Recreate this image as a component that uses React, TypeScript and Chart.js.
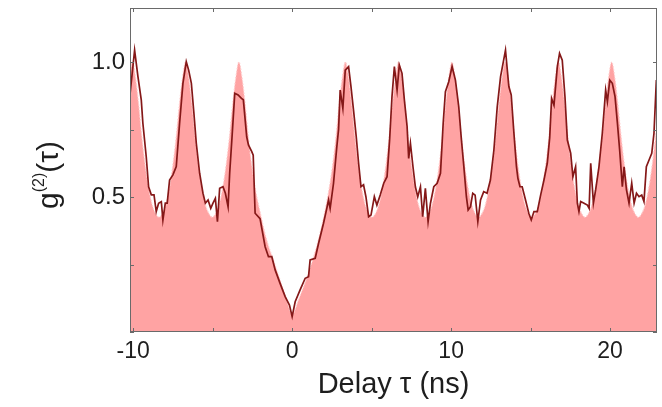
import React, { useEffect, useRef } from 'react';
import { Chart, registerables } from 'chart.js';

Chart.register(...registerables);

// Measured g2 data (delay in ns)
const dataTau = [
  -10.2, -9.91, -9.7, -9.49, -9.39, -9.18, -9.03, -8.86, -8.69, -8.55, -8.4, -8.23, -8.13, -7.98, -7.86,
  -7.71, -7.5, -7.29, -7.08, -6.87, -6.66, -6.51, -6.34, -6.18, -6.03, -5.82, -5.61, -5.46, -5.29, -5.12,
  -4.98, -4.83, -4.7, -4.56, -4.35, -4.2, -4.03, -3.93, -3.78, -3.61, -3.4, -3.19, -3.07, -2.86, -2.75,
  -2.54, -2.45, -2.33, -2.02, -1.7, -1.49, -1.28, -1.07, -0.76, -0.44, -0.17, 0.0, 0.19, 0.5, 0.82,
  1.03, 1.13, 1.45, 1.66, 1.97, 2.18, 2.29, 2.39, 2.6, 2.81, 2.92, 3.02, 3.19, 3.34, 3.55,
  3.7, 3.86, 4.03, 4.18, 4.33, 4.49, 4.64, 4.81, 4.96, 5.17, 5.33, 5.54, 5.76, 5.97, 6.13,
  6.28, 6.43, 6.6, 6.74, 6.91, 7.06, 7.23, 7.33, 7.44, 7.6, 7.75, 7.9, 8.07, 8.21, 8.38,
  8.55, 8.7, 8.91, 9.12, 9.33, 9.5, 9.64, 9.85, 10.06, 10.27, 10.48, 10.63, 10.8, 10.96, 11.07,
  11.22, 11.36, 11.51, 11.68, 11.85, 12.05, 12.26, 12.47, 12.69, 12.9, 13.11, 13.42, 13.63, 13.78, 13.95,
  14.11, 14.2, 14.33, 14.47, 14.68, 14.89, 15.04, 15.21, 15.42, 15.63, 15.84, 16.05, 16.2, 16.32, 16.47,
  16.68, 16.82, 16.99, 17.16, 17.31, 17.52, 17.66, 17.83, 17.94, 18.04, 18.15, 18.36, 18.57, 18.68, 18.78,
  18.95, 19.09, 19.3, 19.51, 19.72, 19.83, 19.98, 20.14, 20.31, 20.46, 20.6, 20.77, 20.88, 21.03, 21.19,
  21.36, 21.51, 21.66, 21.82, 21.99, 22.13, 22.28, 22.45, 22.62, 22.76, 22.91,
];
const dataG = [
  0.88, 1.044, 0.946, 0.859, 0.773, 0.65, 0.538, 0.508, 0.508, 0.446, 0.477, 0.483, 0.415, 0.477, 0.477,
  0.563, 0.582, 0.613, 0.773, 0.921, 1.001, 0.97, 0.921, 0.81, 0.699, 0.588, 0.514, 0.477, 0.489, 0.458,
  0.477, 0.495, 0.409, 0.532, 0.538, 0.514, 0.464, 0.588, 0.724, 0.884, 0.878, 0.865, 0.86, 0.723, 0.693,
  0.668, 0.655, 0.44, 0.42, 0.316, 0.279, 0.279, 0.23, 0.18, 0.131, 0.1, 0.057, 0.112, 0.156, 0.199,
  0.205, 0.267, 0.273, 0.328, 0.402, 0.458, 0.489, 0.458, 0.55, 0.686, 0.75, 0.896, 0.828, 0.97, 0.983,
  0.909, 0.822, 0.724, 0.625, 0.538, 0.545, 0.501, 0.427, 0.433, 0.501, 0.47, 0.507, 0.551, 0.575, 0.711,
  0.872, 0.983, 0.896, 0.989, 0.958, 0.859, 0.761, 0.643, 0.699, 0.612, 0.538, 0.501, 0.538, 0.427, 0.532,
  0.409, 0.477, 0.538, 0.551, 0.588, 0.773, 0.89, 0.927, 0.983, 0.933, 0.834, 0.724, 0.612, 0.501, 0.452,
  0.464, 0.514, 0.507, 0.409, 0.489, 0.52, 0.514, 0.563, 0.674, 0.834, 0.946, 1.044, 0.909, 0.878, 0.736,
  0.612, 0.569, 0.538, 0.538, 0.489, 0.439, 0.415, 0.446, 0.446, 0.507, 0.563, 0.625, 0.72, 0.865, 0.84,
  0.983, 1.032, 1.007, 0.872, 0.711, 0.662, 0.575, 0.612, 0.477, 0.446, 0.483, 0.477, 0.47, 0.458, 0.625,
  0.477, 0.526, 0.612, 0.736, 0.896, 0.853, 0.933, 0.921, 0.872, 0.773, 0.674, 0.538, 0.612, 0.526, 0.477,
  0.551, 0.477, 0.514, 0.501, 0.507, 0.483, 0.612, 0.637, 0.662, 0.736, 0.933,
];

// Fitted curve (shaded)
const fitTau = [
  -10.2, -10.05, -9.85, -9.65, -9.45, -9.25, -9.05, -8.8, -8.6, -8.375, -8.15, -7.95, -7.7, -7.5, -7.3, -7.1, -6.9,
  -6.7, -6.5, -6.3, -6.1, -5.9, -5.7, -5.45, -5.25, -5.025, -4.8, -4.6, -4.35, -4.15, -3.95, -3.75, -3.55,
  -3.35, -3.15, -2.95, -2.75, -2.55, -2.35, -2.0, -1.6, -1.2, -0.8, -0.4, 0.0, 0.4, 0.8, 1.2, 1.6, 2.0,
  2.35, 2.55, 2.75, 2.95, 3.15, 3.35,
  3.55, 3.75, 3.95, 4.15, 4.35, 4.6, 4.8, 5.025, 5.25, 5.45, 5.7, 5.9, 6.1, 6.3, 6.5, 6.7,
  6.9, 7.1, 7.3, 7.5, 7.7, 7.95, 8.15, 8.375, 8.6, 8.8, 9.05, 9.25, 9.45, 9.65, 9.85, 10.05,
  10.25, 10.45, 10.65, 10.85, 11.05, 11.3, 11.5, 11.725, 11.95, 12.15, 12.4, 12.6, 12.8, 13.0, 13.2, 13.4,
  13.6, 13.8, 14.0, 14.2, 14.4, 14.65, 14.85, 15.075, 15.3, 15.5, 15.75, 15.95, 16.15, 16.35, 16.55, 16.75,
  16.95, 17.15, 17.35, 17.55, 17.75, 18.0, 18.2, 18.425, 18.65, 18.85, 19.1, 19.3, 19.5, 19.7, 19.9, 20.1,
  20.3, 20.5, 20.7, 20.9, 21.1, 21.35, 21.55, 21.775, 22.0, 22.2, 22.45, 22.65, 22.85, 23.05,
];
const fitG = [
  0.96, 1.0, 0.94, 0.84, 0.72, 0.62, 0.54, 0.47, 0.44, 0.425, 0.44, 0.47, 0.54, 0.62, 0.72, 0.84, 0.94,
  1.0, 0.94, 0.84, 0.72, 0.62, 0.54, 0.47, 0.44, 0.425, 0.44, 0.47, 0.54, 0.62, 0.72, 0.84, 0.94,
  1.0, 0.94, 0.84, 0.72, 0.62, 0.54, 0.44, 0.34, 0.27, 0.2, 0.13, 0.065, 0.12, 0.18, 0.25, 0.33, 0.43,
  0.54, 0.62, 0.72, 0.84, 0.94, 1.0,
  0.94, 0.84, 0.72, 0.62, 0.54, 0.47, 0.44, 0.425, 0.44, 0.47, 0.54, 0.62, 0.72, 0.84, 0.94, 1.0,
  0.94, 0.84, 0.72, 0.62, 0.54, 0.47, 0.44, 0.425, 0.44, 0.47, 0.54, 0.62, 0.72, 0.84, 0.94, 1.0,
  0.94, 0.84, 0.72, 0.62, 0.54, 0.47, 0.44, 0.425, 0.44, 0.47, 0.54, 0.62, 0.72, 0.84, 0.94, 1.0,
  0.94, 0.84, 0.72, 0.62, 0.54, 0.47, 0.44, 0.425, 0.44, 0.47, 0.54, 0.62, 0.72, 0.84, 0.94, 1.0,
  0.94, 0.84, 0.72, 0.62, 0.54, 0.47, 0.44, 0.425, 0.44, 0.47, 0.54, 0.62, 0.72, 0.84, 0.94, 1.0,
  0.94, 0.84, 0.72, 0.62, 0.54, 0.47, 0.44, 0.425, 0.44, 0.47, 0.54, 0.62, 0.72, 0.84,
];

const xTickValues = [-10, -5, 0, 5, 10, 15, 20];
const xLabeled = [-10, 0, 10, 20];
const yTickValues = [0, 0.25, 0.5, 0.75, 1.0];
const yLabeled = [0.5, 1.0];
const X_MIN = -10.2;
const X_MAX = 22.95;
const Y_MIN = 0;
const Y_MAX = 1.2;

const FONT = '"Liberation Sans", Arial, Helvetica, sans-serif';
const TEXT = '#1e1e1e';

const framePlugin = {
  id: 'frameAndTitles',
  afterDraw(chart: any) {
    const { ctx, chartArea: a, scales } = chart;
    const x = scales.x;
    const y = scales.y;
    ctx.save();
    ctx.strokeStyle = '#6a6a6a';
    ctx.lineWidth = 1;
    ctx.strokeRect(a.left + 0.5, a.top + 0.5, a.right - a.left - 1, a.bottom - a.top - 1);
    ctx.beginPath();
    const tl = 4;
    xTickValues.forEach((v) => {
      const px = Math.round(x.getPixelForValue(v)) + 0.5;
      ctx.moveTo(px, a.bottom);
      ctx.lineTo(px, a.bottom - tl);
      ctx.moveTo(px, a.top);
      ctx.lineTo(px, a.top + tl);
    });
    yTickValues.forEach((v) => {
      const py = Math.round(y.getPixelForValue(v)) + 0.5;
      ctx.moveTo(a.left, py);
      ctx.lineTo(a.left + tl, py);
      ctx.moveTo(a.right, py);
      ctx.lineTo(a.right - tl, py);
    });
    ctx.stroke();

    // x title
    ctx.fillStyle = TEXT;
    ctx.font = `29px ${FONT}`;
    ctx.textAlign = 'center';
    ctx.textBaseline = 'middle';
    ctx.fillText('Delay τ (ns)', (a.left + a.right) / 2, 385);

    // y title with superscript
    const main = `30px ${FONT}`;
    const sup = `16px ${FONT}`;
    const parts = [
      { t: 'g', f: main, dy: 0 },
      { t: '(2)', f: sup, dy: -14 },
      { t: '(τ)', f: main, dy: 0 },
    ];
    let total = 0;
    parts.forEach((p) => {
      ctx.font = p.f;
      total += ctx.measureText(p.t).width;
    });
    ctx.translate(58, 175);
    ctx.rotate(-Math.PI / 2);
    ctx.textAlign = 'left';
    ctx.textBaseline = 'alphabetic';
    let cx = -total / 2;
    parts.forEach((p) => {
      ctx.font = p.f;
      ctx.fillText(p.t, cx, p.dy);
      cx += ctx.measureText(p.t).width;
    });
    ctx.restore();
  },
};

export default function App() {
  const ref = useRef<HTMLCanvasElement | null>(null);

  useEffect(() => {
    if (!ref.current) return;
    const chart = new Chart(ref.current, {
      type: 'line',
      data: {
        datasets: [
          {
            label: 'data',
            data: dataTau.map((t, i) => ({ x: t, y: dataG[i] })),
            borderColor: '#851818',
            borderWidth: 1.7,
            pointRadius: 0,
            tension: 0,
            fill: false,
            order: 0,
          },
          {
            label: 'fit',
            data: fitTau.map((t, i) => ({ x: t, y: fitG[i] })),
            borderColor: 'rgba(255, 205, 205, 1)',
            borderWidth: 1.2,
            borderDash: [1.5, 1.5],
            backgroundColor: '#ffa3a3',
            pointRadius: 0,
            cubicInterpolationMode: 'monotone',
            fill: 'start',
            order: 1,
          },
        ],
      },
      options: {
        responsive: false,
        animation: false,
        devicePixelRatio: 1,
        layout: { padding: { left: 0, right: 5, top: 8, bottom: 0 } },
        plugins: {
          legend: { display: false },
          tooltip: { enabled: false },
        },
        scales: {
          x: {
            type: 'linear',
            min: X_MIN,
            max: X_MAX,
            grid: { display: false, drawTicks: false },
            border: { display: false },
            afterBuildTicks: (axis: any) => {
              axis.ticks = xTickValues.map((v) => ({ value: v }));
            },
            afterFit: (axis: any) => {
              axis.height = 75;
              axis.paddingLeft = 0;
              axis.paddingRight = 0;
            },
            ticks: {
              padding: 6,
              maxRotation: 0,
              autoSkip: false,
              color: TEXT,
              font: { family: FONT, size: 23 },
              callback: (v: any) => (xLabeled.includes(Number(v)) ? String(v) : ''),
            },
          },
          y: {
            type: 'linear',
            min: Y_MIN,
            max: Y_MAX,
            grid: { display: false, drawTicks: false },
            border: { display: false },
            afterBuildTicks: (axis: any) => {
              axis.ticks = yTickValues.map((v) => ({ value: v }));
            },
            afterFit: (axis: any) => {
              axis.width = 130;
              axis.paddingTop = 0;
              axis.paddingBottom = 0;
            },
            ticks: {
              padding: 5,
              autoSkip: false,
              color: TEXT,
              font: { family: FONT, size: 24 },
              callback: (v: any) => (yLabeled.includes(Number(v)) ? Number(v).toFixed(1) : ''),
            },
          },
        },
      },
      plugins: [framePlugin],
    } as any);
    return () => chart.destroy();
  }, []);

  return (
    <div style={{ position: 'fixed', left: 0, top: 0, width: 662, height: 407, background: '#fff' }}>
      <canvas ref={ref} width={662} height={407} style={{ display: 'block' }} />
    </div>
  );
}
